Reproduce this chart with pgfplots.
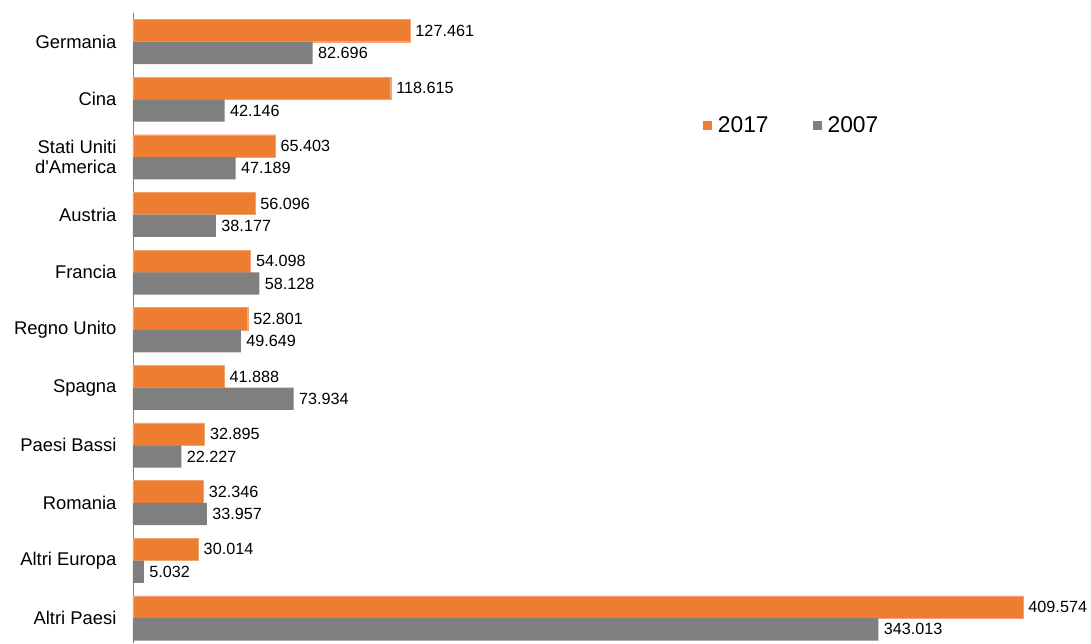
\documentclass[border=0pt]{standalone}
\usepackage{pgfplots}
\pgfplotsset{compat=1.18}
\usepackage{fontspec}
\setmainfont{Liberation Sans}
\definecolor{orng}{HTML}{ED7D31}
\definecolor{gry}{HTML}{7F7F7F}
\begin{document}
\begin{tikzpicture}
\begin{axis}[
  scale only axis,
  width=958pt, height=630pt,
  xbar, bar width=22.3pt,
  xmin=0, xmax=440.9,
  ymin=-0.498, ymax=10.43,
  y dir=reverse,
  axis x line=none,
  axis y line*=left,
  y axis line style={draw=gry},
  ytick={0,...,10},
  yticklabels={Germania,Cina,{Stati Uniti\\d\textquotesingle America},Austria,Francia,Regno Unito,Spagna,Paesi Bassi,Romania,Altri Europa,Altri Paesi},
  yticklabel style={font=\fontsize{18.4}{20}\selectfont, align=right, text=black, xshift=-13pt},
  major tick length=0pt,
  nodes near coords,
  nodes near coords style={font=\fontsize{16.2}{18}\selectfont, anchor=west, xshift=2pt,
    /pgf/number format/.cd, fixed, fixed zerofill, precision=3, assume math mode=true},
  legend style={draw=none, at={(0.595,0.821)}, anchor=west, legend columns=2,
    font=\fontsize{22.8}{24}\selectfont, inner sep=0pt,
    /tikz/every even column/.append style={column sep=42pt},
    nodes={inner sep=2.5pt}},
  legend image code/.code={\fill[#1,draw=none] (0pt,-4.5pt) rectangle (9pt,4.5pt); \path (12pt,0pt);},
  legend cell align=left,
  clip=false,
]
\addplot[fill=orng, draw=orng!70!white, bar shift=11.15pt] coordinates {
(127.461,0) (118.615,1) (65.403,2) (56.096,3) (54.098,4) (52.801,5) (41.888,6) (32.895,7) (32.346,8) (30.014,9) (409.574,10)};
\addplot[fill=gry, draw=none, bar shift=-11.15pt] coordinates {
(82.696,0) (42.146,1) (47.189,2) (38.177,3) (58.128,4) (49.649,5) (73.934,6) (22.227,7) (33.957,8) (5.032,9) (343.013,10)};
\legend{2017,2007}
\coordinate (bl) at (rel axis cs:0,0);
\coordinate (tr) at (rel axis cs:1,1);
\end{axis}
\pgfresetboundingbox
\path ([xshift=-133pt]bl) rectangle ([yshift=13pt]tr);
\end{tikzpicture}
\end{document}
